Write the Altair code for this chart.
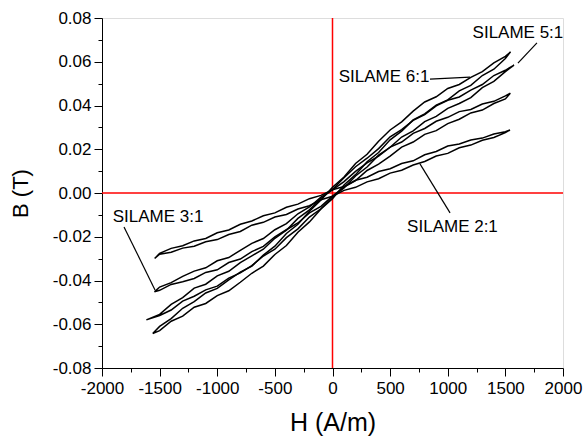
import altair as alt
import pandas as pd

# ---------------- data ----------------
# Magnetic field grid shared by the branches (A/m)
H_GRID = [-1500, -1400, -1300, -1200, -1100, -1000, -900, -800, -700, -600,
          -500, -400, -300, -200, -100, 0, 100, 200, 300, 400,
          500, 600, 700, 800, 900, 1000, 1100, 1200, 1300, 1400, 1500]

# Flux density values in units of 1e-4 T
B_UNIT = 1e-4

LOOP_NAMES = ["SILAME 6:1", "SILAME 5:1", "SILAME 3:1", "SILAME 2:1"]

# loop tips (H, B in 1e-4 T)
TIP_LEFT_H = [-1560, -1615, -1545, -1543]
TIP_LEFT_B = [-642, -580, -452, -299]
TIP_RIGHT_H = [1545, 1575, 1543, 1540]
TIP_RIGHT_B = [645, 585, 456, 288]

# ascending (lower) branches
LOWER_61 = [-629, -586, -563, -522, -505, -469, -447, -408, -367, -334, -281, -240, -179, -132, -73,
            -26, 37, 84, 143, 185, 243, 283, 334, 362, 402, 426, 467, 492, 537, 566, 615]
LOWER_51 = [-560, -535, -494, -472, -443, -426, -389, -365, -332, -288, -257, -204, -164, -110, -72,
            -18, 23, 78, 119, 173, 209, 256, 284, 326, 350, 387, 409, 436, 482, 510, 555]
LOWER_31 = [-445, -418, -406, -391, -363, -351, -318, -302, -268, -244, -201, -168, -137, -91, -61,
            -14, 27, 57, 103, 132, 169, 210, 233, 268, 285, 317, 337, 366, 379, 409, 430]
LOWER_21 = [-280, -271, -252, -243, -223, -213, -190, -176, -147, -134, -110, -98, -73, -58, -31,
            -15, 12, 26, 51, 65, 91, 104, 128, 144, 169, 181, 207, 219, 241, 254, 276]

# descending (upper) branches, listed on the same H grid
UPPER_61 = [-610, -574, -527, -497, -457, -436, -397, -362, -334, -284, -243, -185, -143, -83, -32,
            26, 73, 135, 177, 237, 288, 325, 374, 416, 440, 478, 496, 529, 555, 595, 625]
UPPER_51 = [-555, -509, -478, -435, -417, -379, -358, -318, -287, -257, -207, -170, -116, -77, -25,
            16, 70, 120, 159, 203, 257, 290, 332, 358, 398, 424, 439, 470, 496, 537, 561]
UPPER_31 = [-430, -410, -381, -357, -342, -310, -295, -262, -230, -208, -168, -140, -95, -64, -19,
            14, 52, 99, 138, 168, 210, 233, 273, 295, 328, 346, 372, 382, 407, 419, 444]
UPPER_21 = [-276, -253, -241, -219, -208, -182, -169, -143, -128, -104, -91, -65, -51, -26, -11,
            15, 30, 58, 72, 98, 111, 135, 147, 175, 190, 215, 224, 242, 251, 270, 280]

LOWERS = [LOWER_61, LOWER_51, LOWER_31, LOWER_21]
UPPERS = [UPPER_61, UPPER_51, UPPER_31, UPPER_21]

# annotations
LABEL_TEXT = ["SILAME 5:1", "SILAME 6:1", "SILAME 2:1", "SILAME 3:1"]
LABEL_H = [1609, 447, 1041, -1514]
LABEL_B = [0.0731, 0.0530, -0.0155, -0.0110]
LEADER_H1 = [1774, 846, 1020, -1809]
LEADER_B1 = [0.0686, 0.0521, -0.0091, -0.0155]
LEADER_H2 = [1609, 1193, 759, -1540]
LEADER_B2 = [0.0594, 0.0530, 0.0133, -0.0443]

# axes
X_MAJOR = [-2000, -1500, -1000, -500, 0, 500, 1000, 1500, 2000]
X_MINOR = [-1750, -1250, -750, -250, 250, 750, 1250, 1750]
Y_MAJOR = [-0.08, -0.06, -0.04, -0.02, 0.0, 0.02, 0.04, 0.06, 0.08]
Y_MINOR = [-0.07, -0.05, -0.03, -0.01, 0.01, 0.03, 0.05, 0.07]
X_DOMAIN = [-2000, 2000]
Y_DOMAIN = [-0.08, 0.08]

# ---------------- build table ----------------
rows = []
for k, name in enumerate(LOOP_NAMES):
    seq = [(TIP_LEFT_H[k], TIP_LEFT_B[k])]
    seq += list(zip(H_GRID, LOWERS[k]))
    seq.append((TIP_RIGHT_H[k], TIP_RIGHT_B[k]))
    seq += list(zip(H_GRID[::-1], UPPERS[k][::-1]))
    seq.append((TIP_LEFT_H[k], TIP_LEFT_B[k]))
    for j, (h, b) in enumerate(seq):
        rows.append({"loop": name, "ord": j, "H": h, "B": b * B_UNIT})
loops_df = pd.DataFrame(rows)

labels_df = pd.DataFrame({"text": LABEL_TEXT, "H": LABEL_H, "B": LABEL_B})
leaders_df = pd.DataFrame({"H1": LEADER_H1, "B1": LEADER_B1, "H2": LEADER_H2, "B2": LEADER_B2})

FONT = "Liberation Sans"
xscale = alt.Scale(domain=X_DOMAIN, nice=False, zero=False)
yscale = alt.Scale(domain=Y_DOMAIN, nice=False, zero=False)

x_major_axis = alt.Axis(
    orient="bottom",
    values=X_MAJOR, grid=False, tickSize=8, tickColor="black", domainColor="black",
    labelFontSize=17, labelFont=FONT, labelColor="black", labelPadding=4,
    labelExpr="datum.value < 0 ? '-' + format(-datum.value, 'd') : format(datum.value, 'd')",
    title="H (A/m)", titleFontSize=25, titleFont=FONT, titleFontWeight="normal",
    titleColor="black", titlePadding=14, labelFlush=False,
)
y_major_axis = alt.Axis(
    orient="left",
    values=Y_MAJOR, grid=False, tickSize=8, tickColor="black", domainColor="black",
    labelFontSize=17, labelFont=FONT, labelColor="black", labelPadding=3,
    labelExpr="datum.value < -0.0001 ? '-' + format(-datum.value, '.2f') : format(abs(datum.value), '.2f')",
    title="B (T)", titleFontSize=22, titleFont=FONT, titleFontWeight="normal",
    titleColor="black", titlePadding=20, labelFlush=False,
)
x_minor_axis = alt.Axis(orient="bottom", values=X_MINOR, grid=False, labels=False, tickSize=4,
                        tickColor="black", domain=False, title=None)
y_minor_axis = alt.Axis(orient="left", values=Y_MINOR, grid=False, labels=False, tickSize=4,
                        tickColor="black", domain=False, title=None)

loops = alt.Chart(loops_df).mark_line(color="black", strokeWidth=1.5).encode(
    x=alt.X("H:Q", scale=xscale, axis=x_major_axis),
    y=alt.Y("B:Q", scale=yscale, axis=y_major_axis),
    detail="loop:N",
    order="ord:Q",
)

zero_df = pd.DataFrame({"H": [0], "B": [0.0]})
minor_axes = alt.Chart(zero_df).mark_point(opacity=0).encode(
    x=alt.X("H:Q", scale=xscale, axis=x_minor_axis),
    y=alt.Y("B:Q", scale=yscale, axis=y_minor_axis),
)
vline = alt.Chart(zero_df).mark_rule(color="#ff0000", strokeWidth=1.5).encode(
    x=alt.X("H:Q", scale=xscale, axis=None)
)
hline = alt.Chart(zero_df).mark_rule(color="#ff0000", strokeWidth=1.5).encode(
    y=alt.Y("B:Q", scale=yscale, axis=None)
)
leaders = alt.Chart(leaders_df).mark_rule(color="black", strokeWidth=1.2).encode(
    x=alt.X("H1:Q", scale=xscale, axis=None),
    y=alt.Y("B1:Q", scale=yscale, axis=None),
    x2="H2:Q",
    y2="B2:Q",
)
labels = alt.Chart(labels_df).mark_text(
    font=FONT, fontSize=17, color="black", align="center", baseline="middle"
).encode(
    x=alt.X("H:Q", scale=xscale, axis=None),
    y=alt.Y("B:Q", scale=yscale, axis=None),
    text="text:N",
)

chart = alt.layer(vline, hline, loops, minor_axes, leaders, labels).resolve_axis(
    x="independent", y="independent"
).properties(
    width=461, height=350,
    autosize=alt.AutoSizeParams(type="none"),
    padding={"left": 102, "top": 18, "right": 23, "bottom": 73},
).configure_view(stroke=None).configure(background="white")

chart.save("out.html", embed_options={"renderer": "svg", "actions": False})
